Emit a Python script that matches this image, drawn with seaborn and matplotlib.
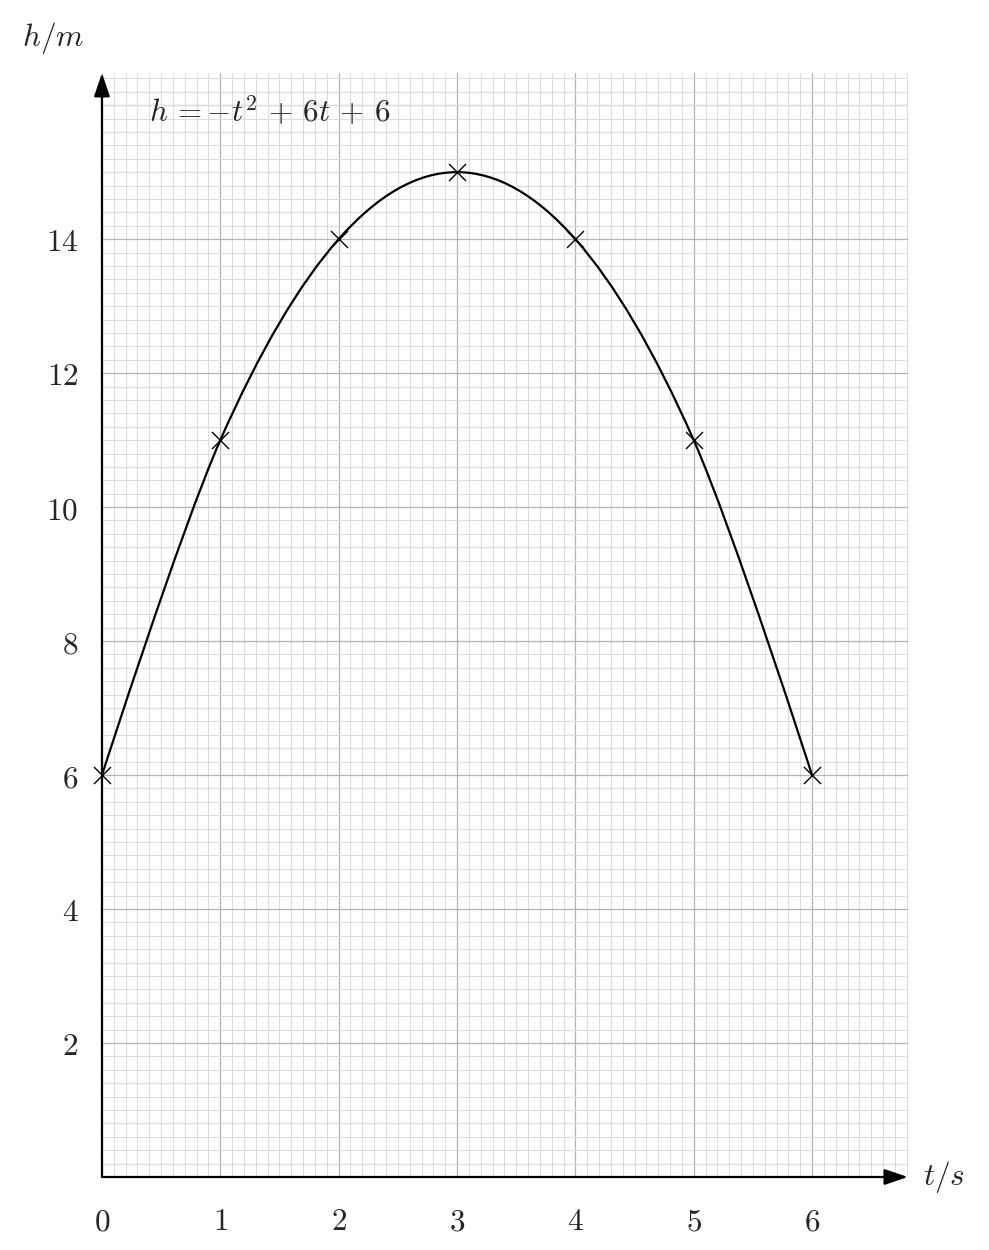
import numpy as np
import matplotlib
matplotlib.use("Agg")
import matplotlib.pyplot as plt
import seaborn as sns
from matplotlib.path import Path
from matplotlib.patches import PathPatch
from matplotlib.ticker import MultipleLocator, FixedLocator

# ---- data ----
t_values = [0, 1, 2, 3, 4, 5, 6]
h_values = [6, 11, 14, 15, 14, 11, 6]
x_ticks = [0, 1, 2, 3, 4, 5, 6]
x_tick_labels = ["0", "1", "2", "3", "4", "5", "6"]
y_ticks = [2, 4, 6, 8, 10, 12, 14]
y_tick_labels = ["2", "4", "6", "8", "10", "12", "14"]
formula = r"$h\,=-t^2\,+\,6t\,+\,6$"
x_label = r"$t/s$"
y_label = r"$h/m$"

sns.set_theme(style="white")
plt.rcParams["mathtext.fontset"] = "cm"
plt.rcParams["font.family"] = ["DejaVu Serif"]

FS = 22.5

fig = plt.figure(figsize=(9.89, 12.5), dpi=100)
ax = fig.add_axes([0.1031, 0.0584, 0.8149, 0.8832])
ax.set_xlim(0, 6.81)
ax.set_ylim(0, 16.48)

# grid
ax.xaxis.set_major_locator(FixedLocator(x_ticks))
ax.yaxis.set_major_locator(FixedLocator(y_ticks))
ax.set_xticklabels(["$%s$" % s for s in x_tick_labels])
ax.set_yticklabels(["$%s$" % s for s in y_tick_labels])
ax.xaxis.set_minor_locator(MultipleLocator(0.1))
ax.yaxis.set_minor_locator(MultipleLocator(0.2))
ax.grid(which="minor", color="#dddddd", linewidth=0.8, zorder=0)
ax.grid(which="major", color="#b3b3b3", linewidth=0.9, zorder=0.5)
ax.axhline(16, color="#b3b3b3", linewidth=0.9, zorder=0.5)
ax.set_axisbelow(True)
ax.tick_params(which="minor", length=0)
ax.tick_params(which="major", direction="inout", length=14, width=1.0,
               color="black", labelsize=FS)
ax.tick_params(axis="x", pad=14)
ax.tick_params(axis="y", pad=10)
for s in ax.spines.values():
    s.set_visible(False)

# axes arrows
arrow_kw = dict(arrowstyle="-|>,head_length=0.65,head_width=0.22", color="black",
                lw=1.6, mutation_scale=22, shrinkA=0, shrinkB=0)
ax.annotate("", xy=(1.0, 0), xytext=(0, 0), xycoords="axes fraction",
            textcoords="axes fraction", arrowprops=arrow_kw, annotation_clip=False)
ax.annotate("", xy=(0, 1.0), xytext=(0, 0), xycoords="axes fraction",
            textcoords="axes fraction", arrowprops=arrow_kw, annotation_clip=False)

# smooth curve (Catmull-Rom style bezier through the data points)
tension = 1.0 / 6.0
pts = np.column_stack([t_values, h_values]).astype(float)
verts = [tuple(pts[0])]
codes = [Path.MOVETO]
n = len(pts)
for i in range(n - 1):
    p0, p1 = pts[i], pts[i + 1]
    d0 = (pts[i + 1] - pts[i - 1]) if i > 0 else np.zeros(2)
    d1 = (pts[i + 2] - pts[i]) if i + 2 < n else np.zeros(2)
    c1 = p0 + tension * d0
    c2 = p1 - tension * d1
    verts += [tuple(c1), tuple(c2), tuple(p1)]
    codes += [Path.CURVE4] * 3
ax.add_patch(PathPatch(Path(verts, codes), facecolor="none", edgecolor="black",
                       lw=1.6, zorder=3, transform=ax.transData))

sns.scatterplot(x=t_values, y=h_values, marker="x", s=150, color="black",
                linewidth=1.0, ax=ax, zorder=4, clip_on=False)

ax.text(0.4, 15.88, formula, fontsize=FS, ha="left", va="center")
fig.text(944 / 989, 1 - 1177 / 1250, x_label, fontsize=FS, ha="center", va="center")
fig.text(53 / 989, 1 - 38 / 1250, y_label, fontsize=FS, ha="center", va="center")

fig.savefig("out.png", dpi=100)
